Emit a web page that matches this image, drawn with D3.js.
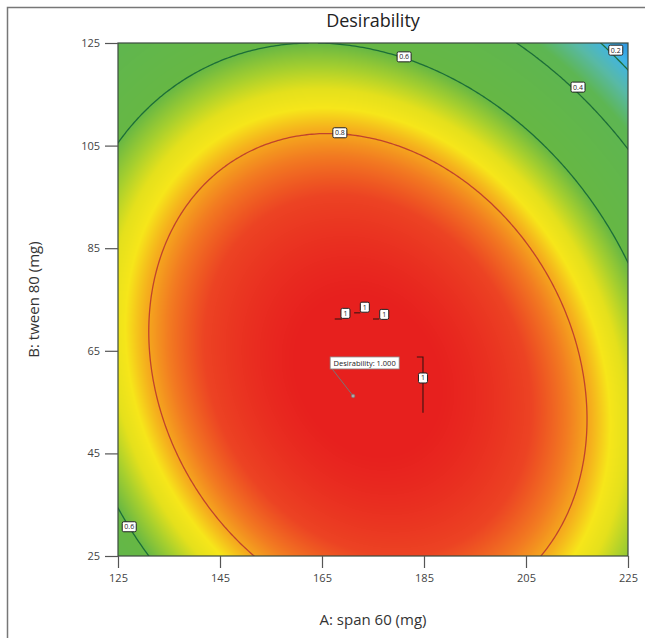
<!DOCTYPE html>
<html>
<head>
<meta charset="utf-8">
<script src="https://cdn.jsdelivr.net/npm/d3@7"></script>
<style>
  body { margin: 0; background: #fff; }
  svg { display: block; }
</style>
</head>
<body>
<div id="chart"></div>
<script>
// axis ranges and ticks
const spanRange = [125, 225];
const tweenRange = [25, 125];
const spanTicks = [125, 145, 165, 185, 205, 225];
const tweenTicks = [25, 45, 65, 85, 105, 125];

// coded quadratic model (terms: 1, A, B, A², B², AB), A coded (A-175)/50, B coded (B-75)/50
const modelTerms = ["1", "A", "B", "A2", "B2", "AB"];
const modelCoefs = [1.0013, -0.0434, -0.1569, -0.315, -0.2615, -0.104];

const contourLevels = [0.2, 0.4, 0.6, 0.8];
const contourColors = ["#1c6e38", "#1c6e38", "#1c6e38", "#c0432c"];

// contour labels
const labelA = [168.5, 181.1, 215.2, 222.6, 127.2];
const labelB = [107.5, 122.3, 116.4, 123.6, 30.7];
const labelText = ["0.8", "0.6", "0.4", "0.2", "0.6"];

// little "1" contour pieces
const oneFlagA = [169.6, 173.4, 177.2, 184.8];
const oneFlagB = [72.3, 73.5, 72.1, 59.7];
const oneSegments = [
    [[167.5, 71.2], [168.9, 71.2]],
    [[171.3, 72.4], [172.5, 72.4]],
    [[175.0, 71.2], [176.2, 71.2]],
    [[183.6, 63.8], [184.8, 63.8], [184.8, 52.9]]
];

// optimum point
const optimum = { A: 171.1, B: 56.2, value: 1.000 };
const optimumBox = { A: 166.6, B: 63.8 };

// colour map
const colorStops = [0.1, 0.18, 0.27, 0.36, 0.6, 0.66, 0.71, 0.75, 0.79, 0.84, 0.9, 1.0];
const colorHex = ["#2585d8", "#3fb4e8", "#58b9a6", "#5db652", "#66b744", "#a6cf2e",
                  "#e4e01c", "#f6e61a", "#f5b01d", "#f27a21", "#ec4323", "#e7201e"];

const W = 645, H = 638;
const margin = { top: 43, right: 17, bottom: 82, left: 118 };
const pw = W - margin.left - margin.right;
const ph = H - margin.top - margin.bottom;
const font = "'Open Sans', 'Noto Sans', sans-serif";

const x = d3.scaleLinear().domain(spanRange).range([0, pw]);
const y = d3.scaleLinear().domain(tweenRange).range([ph, 0]);
const color = d3.scaleLinear().domain(colorStops).range(colorHex)
    .interpolate(d3.interpolateRgb).clamp(true);

function desirability(A, B) {
    const a = (A - 175) / 50, b = (B - 75) / 50;
    const t = [1, a, b, a * a, b * b, a * b];
    const v = d3.sum(t, (d, i) => d * modelCoefs[i]);
    return Math.max(0, Math.min(1, v));
}

const svg = d3.select("#chart").append("svg")
    .attr("width", W)
    .attr("height", H);

// outer frame
svg.append("rect")
    .attr("x", 7.5).attr("y", 7.5)
    .attr("width", 700).attr("height", 700)
    .attr("fill", "none")
    .attr("stroke", "#777")
    .attr("stroke-width", 1.5);

const g = svg.append("g")
    .attr("transform", `translate(${margin.left},${margin.top})`);

svg.append("defs").append("clipPath")
    .attr("id", "plot-clip")
    .append("rect")
    .attr("width", pw).attr("height", ph);

// raster of the surface
const canvas = document.createElement("canvas");
canvas.width = pw;
canvas.height = ph;
const ctx = canvas.getContext("2d");
const img = ctx.createImageData(pw, ph);
for (let j = 0; j < ph; j++) {
    for (let i = 0; i < pw; i++) {
        const c = d3.rgb(color(desirability(x.invert(i + 0.5), y.invert(j + 0.5))));
        const k = (j * pw + i) * 4;
        img.data[k] = c.r;
        img.data[k + 1] = c.g;
        img.data[k + 2] = c.b;
        img.data[k + 3] = 255;
    }
}
ctx.putImageData(img, 0, 0);

g.append("image")
    .attr("width", pw)
    .attr("height", ph)
    .attr("preserveAspectRatio", "none")
    .attr("href", canvas.toDataURL());

// contour lines
const n = 201;
const stepA = (spanRange[1] - spanRange[0]) / (n - 1);
const stepB = (tweenRange[1] - tweenRange[0]) / (n - 1);
const values = new Float64Array(n * n);
for (let j = 0; j < n; j++) {
    for (let i = 0; i < n; i++) {
        values[j * n + i] = desirability(spanRange[0] + i * stepA, tweenRange[0] + j * stepB);
    }
}
const contours = d3.contours().size([n, n]).thresholds(contourLevels)(values);
const proj = d3.geoTransform({
    point(px, py) {
        this.stream.point(x(spanRange[0] + (px - 0.5) * stepA), y(tweenRange[0] + (py - 0.5) * stepB));
    }
});
const path = d3.geoPath(proj);

const plot = g.append("g").attr("clip-path", "url(#plot-clip)");

plot.selectAll("path.contour")
    .data(contours)
    .join("path")
    .attr("class", "contour")
    .attr("d", path)
    .attr("fill", "none")
    .attr("stroke", (d, i) => contourColors[i])
    .attr("stroke-width", 1.3);

// "1" pieces
const line = d3.line().x(d => x(d[0])).y(d => y(d[1]));
plot.selectAll("path.one")
    .data(oneSegments)
    .join("path")
    .attr("class", "one")
    .attr("d", line)
    .attr("fill", "none")
    .attr("stroke", "#3a1410")
    .attr("stroke-width", 1.1);

function labelBox(parent, px, py, text, w, h) {
    const lg = parent.append("g").attr("transform", `translate(${px},${py})`);
    lg.append("rect")
        .attr("x", -w / 2).attr("y", -h / 2)
        .attr("width", w).attr("height", h)
        .attr("rx", 1.5)
        .attr("fill", "#fff")
        .attr("stroke", "#222")
        .attr("stroke-width", 1);
    lg.append("text")
        .attr("text-anchor", "middle")
        .attr("dy", "0.35em")
        .attr("font-family", font)
        .attr("font-size", "7px")
        .attr("fill", "#222")
        .text(text);
}

labelText.forEach((t, i) => labelBox(plot, x(labelA[i]), y(labelB[i]), t, 14, 10));
oneFlagA.forEach((a, i) => labelBox(plot, x(a), y(oneFlagB[i]), "1", 9, 10));

// optimum annotation
const bx = x(optimumBox.A), by = y(optimumBox.B);
plot.append("line")
    .attr("x1", bx + 2).attr("y1", by + 12)
    .attr("x2", x(optimum.A)).attr("y2", y(optimum.B))
    .attr("stroke", "#777")
    .attr("stroke-width", 1);
plot.append("circle")
    .attr("cx", x(optimum.A)).attr("cy", y(optimum.B))
    .attr("r", 1.8)
    .attr("fill", "#aaa")
    .attr("stroke", "#777")
    .attr("stroke-width", 0.6);
plot.append("rect")
    .attr("x", bx).attr("y", by)
    .attr("width", 69).attr("height", 12)
    .attr("fill", "#fff")
    .attr("stroke", "#888")
    .attr("stroke-width", 0.8);
plot.append("text")
    .attr("x", bx + 34.5).attr("y", by + 6)
    .attr("dy", "0.35em")
    .attr("text-anchor", "middle")
    .attr("font-family", font)
    .attr("font-size", "7.5px")
    .attr("fill", "#222")
    .text(`Desirability: ${optimum.value.toFixed(3)}`);

// plot frame
g.append("rect")
    .attr("width", pw).attr("height", ph)
    .attr("fill", "none")
    .attr("stroke", "#3b4a3f")
    .attr("stroke-width", 1.2);

// axes
const xAxis = g.append("g")
    .attr("transform", `translate(0,${ph})`)
    .call(d3.axisBottom(x).tickValues(spanTicks).tickSize(12).tickPadding(6));
const yAxis = g.append("g")
    .call(d3.axisLeft(y).tickValues(tweenTicks).tickSize(13).tickPadding(5));

[xAxis, yAxis].forEach(ax => {
    ax.select(".domain").remove();
    ax.selectAll(".tick line").attr("stroke", "#555").attr("stroke-width", 1.2);
    ax.selectAll(".tick text")
        .attr("font-family", font)
        .attr("font-size", "11px")
        .attr("fill", "#444");
});

// titles
svg.append("text")
    .attr("x", margin.left + pw / 2)
    .attr("y", 27)
    .attr("text-anchor", "middle")
    .attr("font-family", font)
    .attr("font-size", "18px")
    .attr("fill", "#222")
    .text("Desirability");

svg.append("text")
    .attr("x", margin.left + pw / 2)
    .attr("y", 625)
    .attr("text-anchor", "middle")
    .attr("font-family", font)
    .attr("font-size", "15px")
    .attr("fill", "#333")
    .text("A: span 60 (mg)");

svg.append("text")
    .attr("transform", `translate(34,${margin.top + ph / 2}) rotate(-90)`)
    .attr("text-anchor", "middle")
    .attr("dy", "0.35em")
    .attr("font-family", font)
    .attr("font-size", "15px")
    .attr("fill", "#333")
    .text("B: tween 80 (mg)");
</script>
</body>
</html>
